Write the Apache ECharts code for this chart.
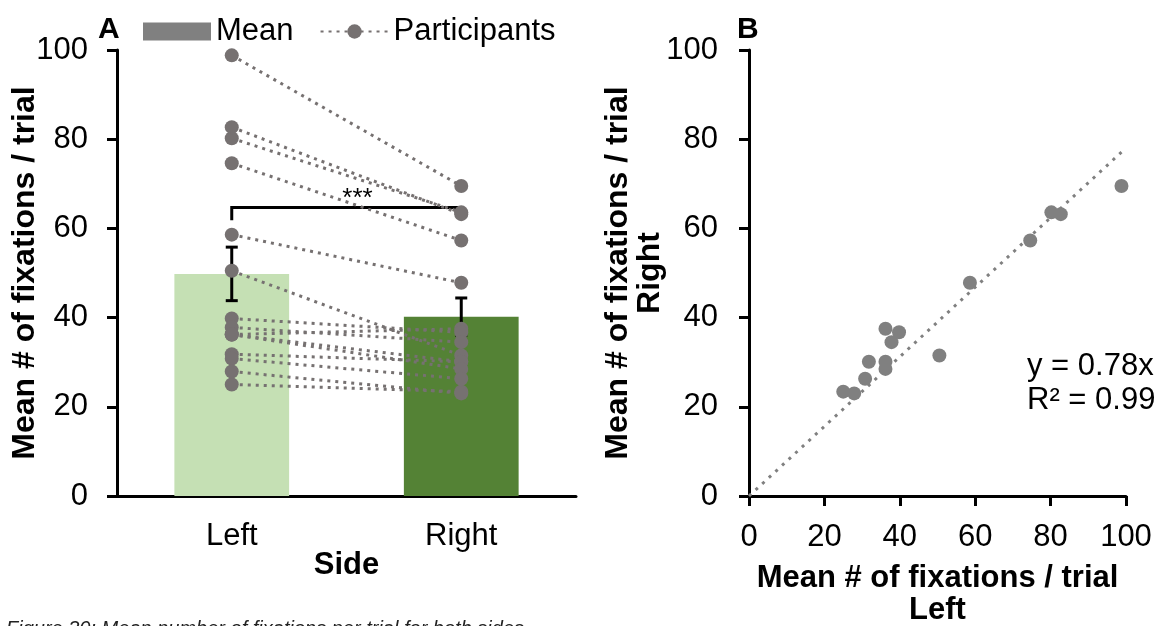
<!DOCTYPE html>
<html>
<head>
<meta charset="utf-8">
<script src="https://cdn.jsdelivr.net/npm/echarts@6/dist/echarts.min.js"></script>
<style>
html,body{margin:0;padding:0;background:#fff;}
#chart{width:1166px;height:626px;}
</style>
</head>
<body>
<div id="chart"></div>
<script>
// ---- data ----
const sides = ['Left', 'Right'];
const meanValues = [49.8, 40.2];
const errLow = [43.8, 36.0];
const errHigh = [55.8, 44.4];
const leftVals  = [98.8, 80.2, 82.7, 74.6, 58.6, 50.5, 36.2, 39.8, 37.8, 31.8, 36.2, 36.2, 30.8, 25.0, 27.9];
const rightVals = [69.5, 63.6, 63.2, 57.3, 47.8, 31.5, 37.5, 36.7, 34.5, 30.1, 30.1, 28.5, 26.3, 23.4, 23.0];
const bracket = [64.7, 61.8]; // top, tick ends
const trendX = [0, 98.8];
const trendY = [0, 77.1];
const equationText = 'y = 0.78x\nR² = 0.99';

const FONT = 'Liberation Sans, Arial, sans-serif';
const GREY = '#767171';
const FS = 31;
const chart = echarts.init(document.getElementById('chart'));

const participantSeries = leftVals.map((l, i) => ({
  name: 'Participants',
  type: 'line',
  xAxisIndex: 0, yAxisIndex: 0,
  data: [l, rightVals[i]],
  symbol: 'circle',
  symbolSize: 14,
  itemStyle: {color: GREY},
  lineStyle: {color: GREY, width: 3, type: [3, 5]},
  z: 10,
  silent: true,
  animation: false
}));

const option = {
  animation: false,
  textStyle: {fontFamily: FONT},
  legend: {
    left: 143, top: 16, padding: 0,
    itemWidth: 68, itemHeight: 18, itemGap: 26,
    textStyle: {fontSize: FS, color: '#000', fontFamily: FONT},
    data: [
      {name: 'Mean', icon: 'rect', itemStyle: {color: '#808080'}},
      {name: 'Participants'}
    ]
  },
  grid: [
    {left: 117, width: 459, top: 50, height: 446, outerBoundsMode: 'none', containLabel: false},
    {left: 749, width: 377, top: 50, height: 446, outerBoundsMode: 'none', containLabel: false}
  ],
  xAxis: [
    {
      gridIndex: 0, type: 'category', data: sides,
      axisLine: {lineStyle: {color: '#000', width: 3}},
      axisTick: {show: false},
      axisLabel: {color: '#000', fontSize: FS, margin: 25, fontFamily: FONT},
      name: 'Side', nameLocation: 'middle', nameGap: 54, nameMoveOverlap: false,
      nameTextStyle: {color: '#000', fontSize: FS, fontWeight: 'bold', fontFamily: FONT}
    },
    {
      gridIndex: 1, type: 'value', min: 0, max: 100, interval: 20,
      axisLine: {lineStyle: {color: '#000', width: 3}},
      axisTick: {show: true, length: 10, lineStyle: {color: '#000', width: 3}},
      splitLine: {show: false},
      axisLabel: {color: '#000', fontSize: FS, margin: 26, fontFamily: FONT},
      name: 'Mean # of fixations / trial\nLeft', nameLocation: 'middle', nameGap: 66, nameMoveOverlap: false,
      nameTextStyle: {color: '#000', fontSize: FS, fontWeight: 'bold', lineHeight: 32, fontFamily: FONT, verticalAlign: 'top'}
    }
  ],
  yAxis: [
    {
      gridIndex: 0, type: 'value', min: 0, max: 100, interval: 20,
      axisLine: {show: true, lineStyle: {color: '#000', width: 3}},
      axisTick: {show: true, length: 10, lineStyle: {color: '#000', width: 3}},
      splitLine: {show: false},
      axisLabel: {color: '#000', fontSize: FS, margin: 29, fontFamily: FONT},
      name: 'Mean # of fixations / trial', nameLocation: 'middle', nameGap: 76, nameMoveOverlap: false,
      nameTextStyle: {color: '#000', fontSize: 32, fontWeight: 'bold', fontFamily: FONT}
    },
    {
      gridIndex: 1, type: 'value', min: 0, max: 100, interval: 20,
      axisLine: {show: true, lineStyle: {color: '#000', width: 3}},
      axisTick: {show: true, length: 10, lineStyle: {color: '#000', width: 3}},
      splitLine: {show: false},
      axisLabel: {color: '#000', fontSize: FS, margin: 31, fontFamily: FONT},
      name: 'Mean # of fixations / trial\nRight', nameLocation: 'middle', nameGap: 83, nameMoveOverlap: false,
      nameTextStyle: {color: '#000', fontSize: 32, fontWeight: 'bold', lineHeight: 32, fontFamily: FONT}
    }
  ],
  graphic: [
    {type: 'text', left: 98, top: 15, style: {text: 'A', fontSize: 30, fontWeight: 'bold', fontFamily: FONT, fill: '#000'}},
    {type: 'text', left: 737, top: 15, style: {text: 'B', fontSize: 30, fontWeight: 'bold', fontFamily: FONT, fill: '#000'}},
    {type: 'text', left: 1027, top: 349, style: {text: equationText, fontSize: FS, lineHeight: 34, fontFamily: FONT, fill: '#000'}},
    {type: 'text', left: 6, top: 619, style: {text: 'Figure 30: Mean number of fixations per trial for both sides', fontSize: 20, fontStyle: 'italic', fontFamily: FONT, fill: '#222'}}
  ],
  series: [
    {
      name: 'Mean', type: 'bar', xAxisIndex: 0, yAxisIndex: 0,
      barWidth: '50%',
      data: meanValues.map((v, i) => ({value: v, itemStyle: {color: i === 0 ? '#c5e0b4' : '#548235'}})),
      z: 2
    },
    {
      type: 'custom', xAxisIndex: 0, yAxisIndex: 0, z: 5, silent: true,
      data: sides.map((s, i) => [i, errLow[i], errHigh[i]]),
      renderItem: function (params, api) {
        const lo = api.coord([api.value(0), api.value(1)]);
        const hi = api.coord([api.value(0), api.value(2)]);
        const hw = 6;
        const st = {stroke: '#000', lineWidth: 3};
        return {type: 'group', children: [
          {type: 'line', shape: {x1: lo[0], y1: lo[1], x2: hi[0], y2: hi[1]}, style: st},
          {type: 'line', shape: {x1: hi[0] - hw, y1: hi[1], x2: hi[0] + hw, y2: hi[1]}, style: st},
          {type: 'line', shape: {x1: lo[0] - hw, y1: lo[1], x2: lo[0] + hw, y2: lo[1]}, style: st}
        ]};
      }
    },
    {
      type: 'custom', xAxisIndex: 0, yAxisIndex: 0, z: 5, silent: true,
      data: [[0, 1, bracket[0], bracket[1]]],
      renderItem: function (params, api) {
        const a = api.coord([api.value(0), api.value(2)]);
        const b = api.coord([api.value(1), api.value(2)]);
        const a2 = api.coord([api.value(0), api.value(3)]);
        const b2 = api.coord([api.value(1), api.value(3)]);
        const st = {stroke: '#000', lineWidth: 3};
        return {type: 'group', children: [
          {type: 'polyline', shape: {points: [[a2[0], a2[1]], [a[0], a[1]], [b[0], b[1]], [b2[0], b2[1]]]}, style: Object.assign({fill: 'none'}, st)},
          {type: 'text', style: {text: '***', x: (a[0] + b[0]) / 2 + 11, y: a[1] + 4, fontSize: 26, fontFamily: FONT, fill: '#000', textAlign: 'center', textVerticalAlign: 'bottom'}}
        ]};
      }
    },
    ...participantSeries,
    {
      type: 'line', xAxisIndex: 1, yAxisIndex: 1,
      data: trendX.map((x, i) => [x, trendY[i]]),
      symbol: 'none',
      lineStyle: {color: '#808080', width: 3, type: [3, 6]},
      z: 3, silent: true
    },
    {
      type: 'scatter', xAxisIndex: 1, yAxisIndex: 1,
      data: leftVals.map((l, i) => [l, rightVals[i]]),
      symbolSize: 14,
      itemStyle: {color: '#808080', opacity: 1},
      z: 4, silent: true
    }
  ]
};
chart.setOption(option);
</script>
</body>
</html>
